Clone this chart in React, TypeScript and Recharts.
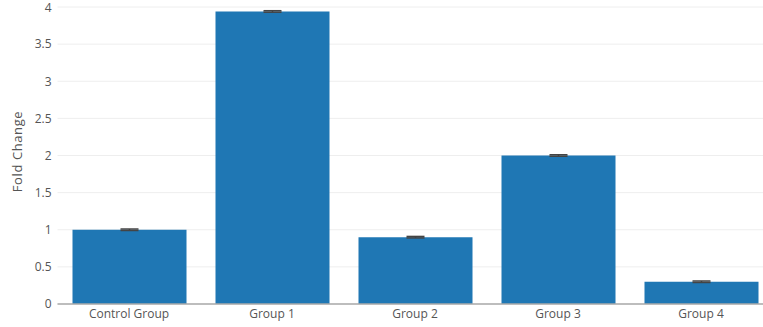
import { Bar, BarChart, CartesianGrid, ErrorBar, XAxis, YAxis } from 'recharts';

// fold change per group, with its error
const groups = ['Control Group', 'Group 1', 'Group 2', 'Group 3', 'Group 4'];
const foldChange = [1.0, 3.94, 0.9, 2.0, 0.3];
const foldError = [0.01, 0.01, 0.01, 0.01, 0.01];
const yTicks = [0, 0.5, 1, 1.5, 2, 2.5, 3, 3.5, 4];

const data = groups.map((group, i) => ({
  group,
  fold: foldChange[i],
  err: foldError[i],
}));

const font = '"Open Sans", "Noto Sans", sans-serif';
const tickStyle = { fontSize: 12, fill: '#555', fontFamily: font };

const App = () => {
  return (
    <div
      style={{
        position: 'absolute',
        left: 0,
        top: 0,
        width: 763,
        height: 327,
        overflow: 'hidden',
        background: '#fff',
      }}>
      <BarChart
        width={780}
        height={327}
        data={data}
        style={{ overflow: 'visible' }}
        margin={{ top: 7, right: 7.5, bottom: 0, left: 0 }}>
        <CartesianGrid vertical={false} stroke='#eeeeee' />
        <XAxis
          dataKey='group'
          height={23}
          tickLine={false}
          tickSize={0}
          tickMargin={5}
          stroke='#aaa'
          strokeWidth={1.5}
          tick={tickStyle}
          interval={0}
        />
        <YAxis
          width={57.5}
          domain={[0, 4]}
          ticks={yTicks}
          axisLine={false}
          tickLine={false}
          tickSize={0}
          tickMargin={6}
          tick={tickStyle}
          label={{
            value: 'Fold Change',
            angle: -90,
            position: 'center',
            dx: -11,
            dy: -4,
            style: { fontSize: 13, fill: '#555', fontFamily: font, letterSpacing: 0.6 },
          }}
        />
        <Bar dataKey='fold' fill='#1f77b4' barSize={114} isAnimationActive={false}>
          <ErrorBar dataKey='err' width={9} stroke='#444' strokeWidth={1.5} />
        </Bar>
      </BarChart>
    </div>
  );
};

export default App;
